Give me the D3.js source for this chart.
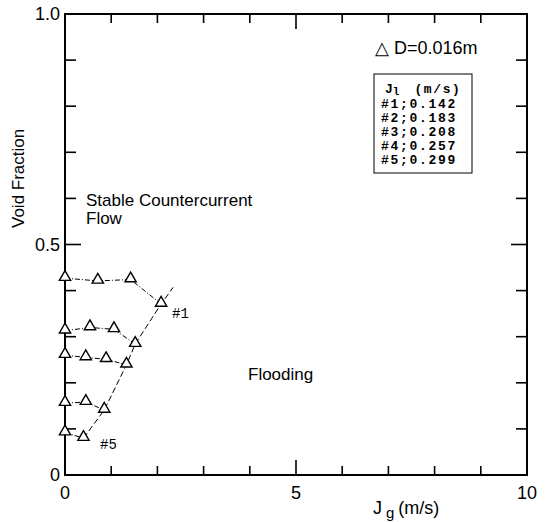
<!DOCTYPE html>
<html><head><meta charset="utf-8">
<script src="https://cdn.jsdelivr.net/npm/d3@7"></script>
<style>body{margin:0;background:#fff}svg{display:block}</style>
</head><body>
<svg id="c" width="553" height="522"></svg>
<script>
// Data (Jg m/s, void fraction)
const series1 = [[0,0.427],[0.71,0.421],[1.42,0.424],[2.08,0.371]];
const series2 = [[0,0.313],[0.54,0.320],[1.06,0.316],[1.52,0.284]];
const series3 = [[0,0.260],[0.45,0.255],[0.89,0.251],[1.33,0.239]];
const series4 = [[0,0.156],[0.45,0.158],[0.85,0.141]];
const series5 = [[0,0.092],[0.40,0.080]];
const floodLine = [[0.40,0.080],[0.85,0.141],[1.33,0.239],[1.52,0.284],[2.08,0.371],[2.34,0.407]];
const legendLines = ["#1;0.142","#2;0.183","#3;0.208","#4;0.257","#5;0.299"];
const xTicks = [0,1,2,3,4,5,6,7,8,9,10];
const yTicks = [0,0.1,0.2,0.3,0.4,0.5,0.6,0.7,0.8,0.9,1.0];

const svg = d3.select("#c");
const x = d3.scaleLinear().domain([0,10]).range([65,527]);
const y = d3.scaleLinear().domain([0,1]).range([475,14]);

// frame
svg.append("rect").attr("x",65).attr("y",14).attr("width",462).attr("height",461)
  .attr("fill","none").attr("stroke","#000").attr("stroke-width",2);

const tk = svg.append("g").attr("stroke","#000").attr("stroke-width",1.6);
xTicks.forEach(v=>{
  const L = v===5?15:9;
  if(v>0 && v<10){
    tk.append("line").attr("x1",x(v)).attr("x2",x(v)).attr("y1",475).attr("y2",475-L);
    tk.append("line").attr("x1",x(v)).attr("x2",x(v)).attr("y1",14).attr("y2",14+L);
  }
});
yTicks.forEach(v=>{
  const L = v===0.5?16:11;
  if(v>0 && v<1){
    tk.append("line").attr("x1",65).attr("x2",65+L).attr("y1",y(v)).attr("y2",y(v));
    tk.append("line").attr("x1",527).attr("x2",527-L).attr("y1",y(v)).attr("y2",y(v));
  }
});

const lab = svg.append("g").attr("font-family","Liberation Sans, Arial, sans-serif").attr("fill","#000");
[[0,"0"],[5,"5"],[10,"10"]].forEach(([v,t])=>{
  lab.append("text").attr("x",x(v)).attr("y",499).attr("text-anchor","middle").attr("font-size",18).text(t);
});
[[0,"0"],[0.5,"0.5"],[1,"1.0"]].forEach(([v,t])=>{
  lab.append("text").attr("x",60).attr("y",y(v)+6).attr("text-anchor","end").attr("font-size",18).text(t);
});
const xt = lab.append("text").attr("x",373).attr("y",514).attr("font-size",18);
xt.append("tspan").text("J");
xt.append("tspan").attr("dy",4).attr("dx",4).attr("font-size",15).text("g");
xt.append("tspan").attr("dy",-4).attr("dx",4).text("(m/s)");
lab.append("text").attr("transform","translate(24,228) rotate(-90)").attr("text-anchor","start").attr("font-size",17).text("Void Fraction");
lab.append("text").attr("x",86).attr("y",206).attr("font-size",17).text("Stable Countercurrent");
lab.append("text").attr("x",86).attr("y",224).attr("font-size",17).text("Flow");
lab.append("text").attr("x",248).attr("y",380).attr("font-size",17).text("Flooding");
lab.append("text").attr("x",375).attr("y",54).attr("font-size",18).text("\u25B3 D=0.016m");

// legend box
svg.append("rect").attr("x",374).attr("y",74).attr("width",98).attr("height",99)
  .attr("fill","none").attr("stroke","#000").attr("stroke-width",1);
const mono = svg.append("g").attr("font-family","Liberation Mono, Courier New, monospace").attr("font-size",13).attr("font-weight","bold").attr("fill","#000");
const hd = mono.append("text").attr("x",385).attr("y",93);
hd.append("tspan").text("J");
hd.append("tspan").attr("font-size",11).attr("dy",2).text("l");
hd.append("tspan").attr("dy",-2).attr("dx",15).attr("letter-spacing",1.6).text("(m/s)");
legendLines.forEach((t,i)=>{
  mono.append("text").attr("x",381).attr("y",108+i*14).attr("letter-spacing",1.7).text(t);
});

// lines
const line = d3.line().x(d=>x(d[0])).y(d=>y(d[1]));
const allSeries = [series1,series2,series3,series4,series5];
allSeries.forEach(s=>{
  svg.append("path").attr("d",line(s)).attr("fill","none").attr("stroke","#000")
    .attr("stroke-width",1).attr("stroke-dasharray","5,2,1,2");
});
svg.append("path").attr("d",line(floodLine)).attr("fill","none").attr("stroke","#000")
  .attr("stroke-width",1).attr("stroke-dasharray","6,3");

// markers
const tri = d3.symbol().type(d3.symbolTriangle).size(55);
allSeries.forEach(s=>{
  svg.append("g").selectAll("path").data(s).join("path")
    .attr("d",tri).attr("transform",d=>`translate(${x(d[0])},${y(d[1])-1})`)
    .attr("fill","#fff").attr("stroke","#000").attr("stroke-width",1.4);
});

// series labels
svg.append("text").attr("x",172).attr("y",318).attr("font-family","Liberation Mono, monospace").attr("font-size",14).text("#1");
svg.append("text").attr("x",100).attr("y",449).attr("font-family","Liberation Mono, monospace").attr("font-size",14).text("#5");
</script>
</body></html>
